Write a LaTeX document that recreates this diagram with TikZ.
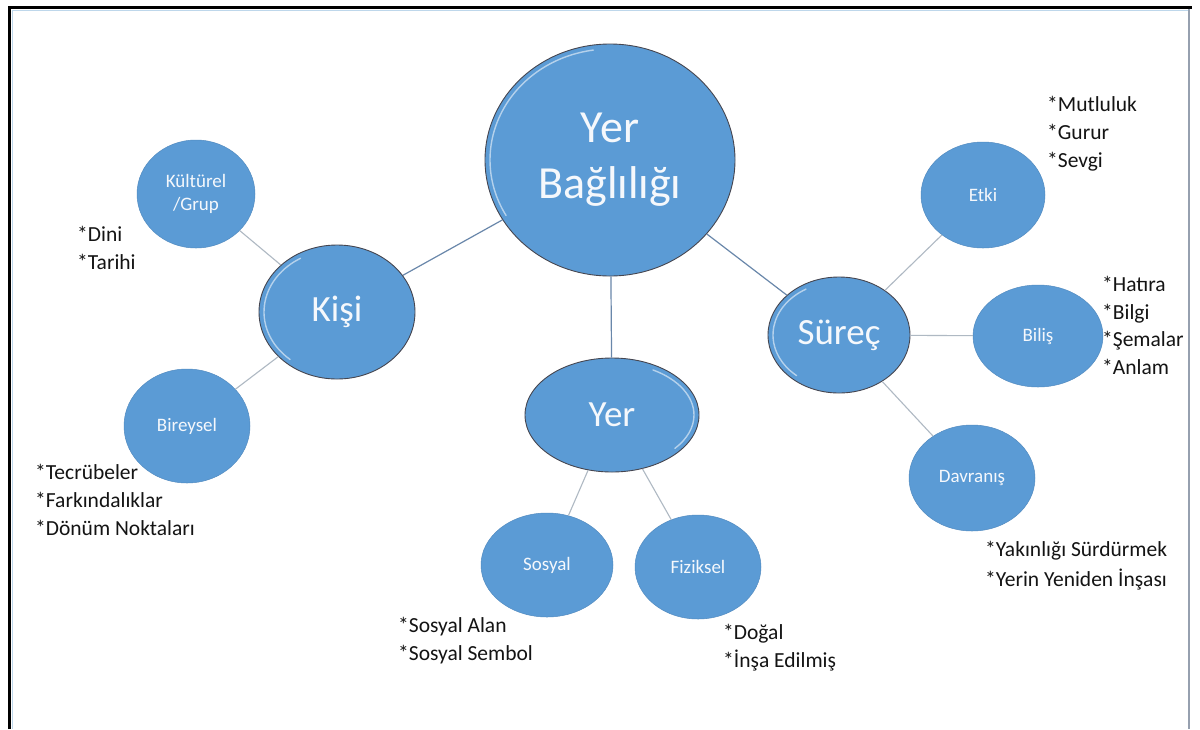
\documentclass[tikz,border=0pt]{standalone}
\usepackage{fontspec}
\setmainfont{Carlito}
\usetikzlibrary{shapes.geometric}
\definecolor{cfill}{RGB}{91,155,213}
\definecolor{cedge}{RGB}{70,70,80}
\definecolor{cmain}{RGB}{105,135,170}
\definecolor{csub}{RGB}{175,185,195}
\definecolor{ctxt}{RGB}{245,248,252}
\definecolor{canno}{RGB}{20,20,20}
\definecolor{cframein}{RGB}{190,215,235}
\definecolor{cframer}{RGB}{150,160,175}
\tikzset{
  bigbubble/.style={ellipse, fill=cfill, draw=cedge, line width=0.9pt, inner sep=0pt, text=ctxt, align=center},
  smallbubble/.style={ellipse, fill=cfill, draw=cfill!90!black, line width=0.5pt, inner sep=0pt, text=ctxt, align=center, font=\fontsize{19}{23}\selectfont},
  mainlink/.style={draw=cmain, line width=1.2pt},
  sublink/.style={draw=csub, line width=1.1pt},
  anno/.style={anchor=north west, inner sep=0pt, align=left, text=canno, font=\fontsize{21.5}{28}\selectfont},
  shine/.style={draw=white, opacity=0.55, line width=1.4pt, line cap=round}
}
\begin{document}
\begin{tikzpicture}[x=1pt,y=-1pt]
\useasboundingbox (0,0) rectangle (1200,729);
\fill[white] (0,0) rectangle (1200,729);
% frame
\draw[black, line width=3pt] (9,729) -- (9,7) -- (1192,7);
\draw[cframein, line width=0.8pt] (12.5,729) -- (12.5,10) -- (1188,10);
\draw[cframer, line width=1.2pt] (1189,8.5) -- (1189,729);

% nodes
\node[bigbubble, minimum width=250pt, minimum height=232pt, font=\fontsize{46}{56}\selectfont] (yb) at (610,160) {Yer\\Bağlılığı};
\node[bigbubble, minimum width=156pt, minimum height=134pt, font=\fontsize{37}{44}\selectfont] (kisi) at (337,312) {Kişi};
\node[bigbubble, minimum width=142pt, minimum height=116pt, font=\fontsize{37}{44}\selectfont] (surec) at (839,335) {Süreç};
\node[bigbubble, minimum width=174pt, minimum height=114pt, font=\fontsize{37}{44}\selectfont] (yer) at (612,415) {Yer};

\node[smallbubble, minimum width=118pt, minimum height=108pt] (kult) at (196,194) {Kültürel\\/Grup};
\node[smallbubble, minimum width=126pt, minimum height=114pt] (bir) at (187,426) {Bireysel};
\node[smallbubble, minimum width=132pt, minimum height=104pt] (sos) at (547,565) {Sosyal};
\node[smallbubble, minimum width=126pt, minimum height=104pt] (fiz) at (698,567) {Fiziksel};
\node[smallbubble, minimum width=124pt, minimum height=106pt] (etki) at (983,195) {Etki};
\node[smallbubble, minimum width=130pt, minimum height=102pt] (bilis) at (1038,336) {Biliş};
\node[smallbubble, minimum width=126pt, minimum height=106pt] (dav) at (972,478) {Davranış};

% highlights (bevel) on big bubbles
\draw[shine] (yb.center) ++({120*cos(150)},{111*sin(150)}) arc[start angle=150, end angle=262, x radius=120, y radius=111];
\draw[shine] (kisi.center) ++({73*cos(130)},{62*sin(130)}) arc[start angle=130, end angle=240, x radius=73, y radius=62];
\draw[shine] (surec.center) ++({66*cos(130)},{53*sin(130)}) arc[start angle=130, end angle=240, x radius=66, y radius=53];
\draw[shine] (yer.center) ++({82*cos(-60)},{52*sin(-60)}) arc[start angle=-60, end angle=40, x radius=82, y radius=52];

% connectors
\path[mainlink] (yb) -- (kisi);
\path[mainlink] (yb) -- (surec);
\path[mainlink] (yb) -- (yer);
\path[sublink] (kisi) -- (kult);
\path[sublink] (kisi) -- (bir);
\path[sublink] (yer) -- (sos);
\path[sublink] (yer) -- (fiz);
\path[sublink] (surec) -- (etki);
\path[sublink] (surec) -- (bilis);
\path[sublink] (surec) -- (dav);

% annotations
\node[anno] (a1) at (77,226) {*Dini\\*Tarihi};
\node[anno] (a2) at (35,464) {*Tecrübeler\\*Farkındalıklar\\*Dönüm Noktaları};
\node[anno] (a3) at (398,617) {*Sosyal Alan\\*Sosyal Sembol};
\node[anno] (a4) at (723,624) {*Doğal\\*İnşa Edilmiş};
\node[anno] (a5) at (1047,96) {*Mutluluk\\*Gurur\\*Sevgi};
\node[anno, font=\fontsize{21.5}{27.6}\selectfont] (a6) at (1102,276) {*Hatıra\\*Bilgi\\*Şemalar\\*Anlam};
\node[anno, font=\fontsize{21.5}{30}\selectfont] (a7) at (985,541) {*Yakınlığı Sürdürmek\\*Yerin Yeniden İnşası};
\end{tikzpicture}
\end{document}
